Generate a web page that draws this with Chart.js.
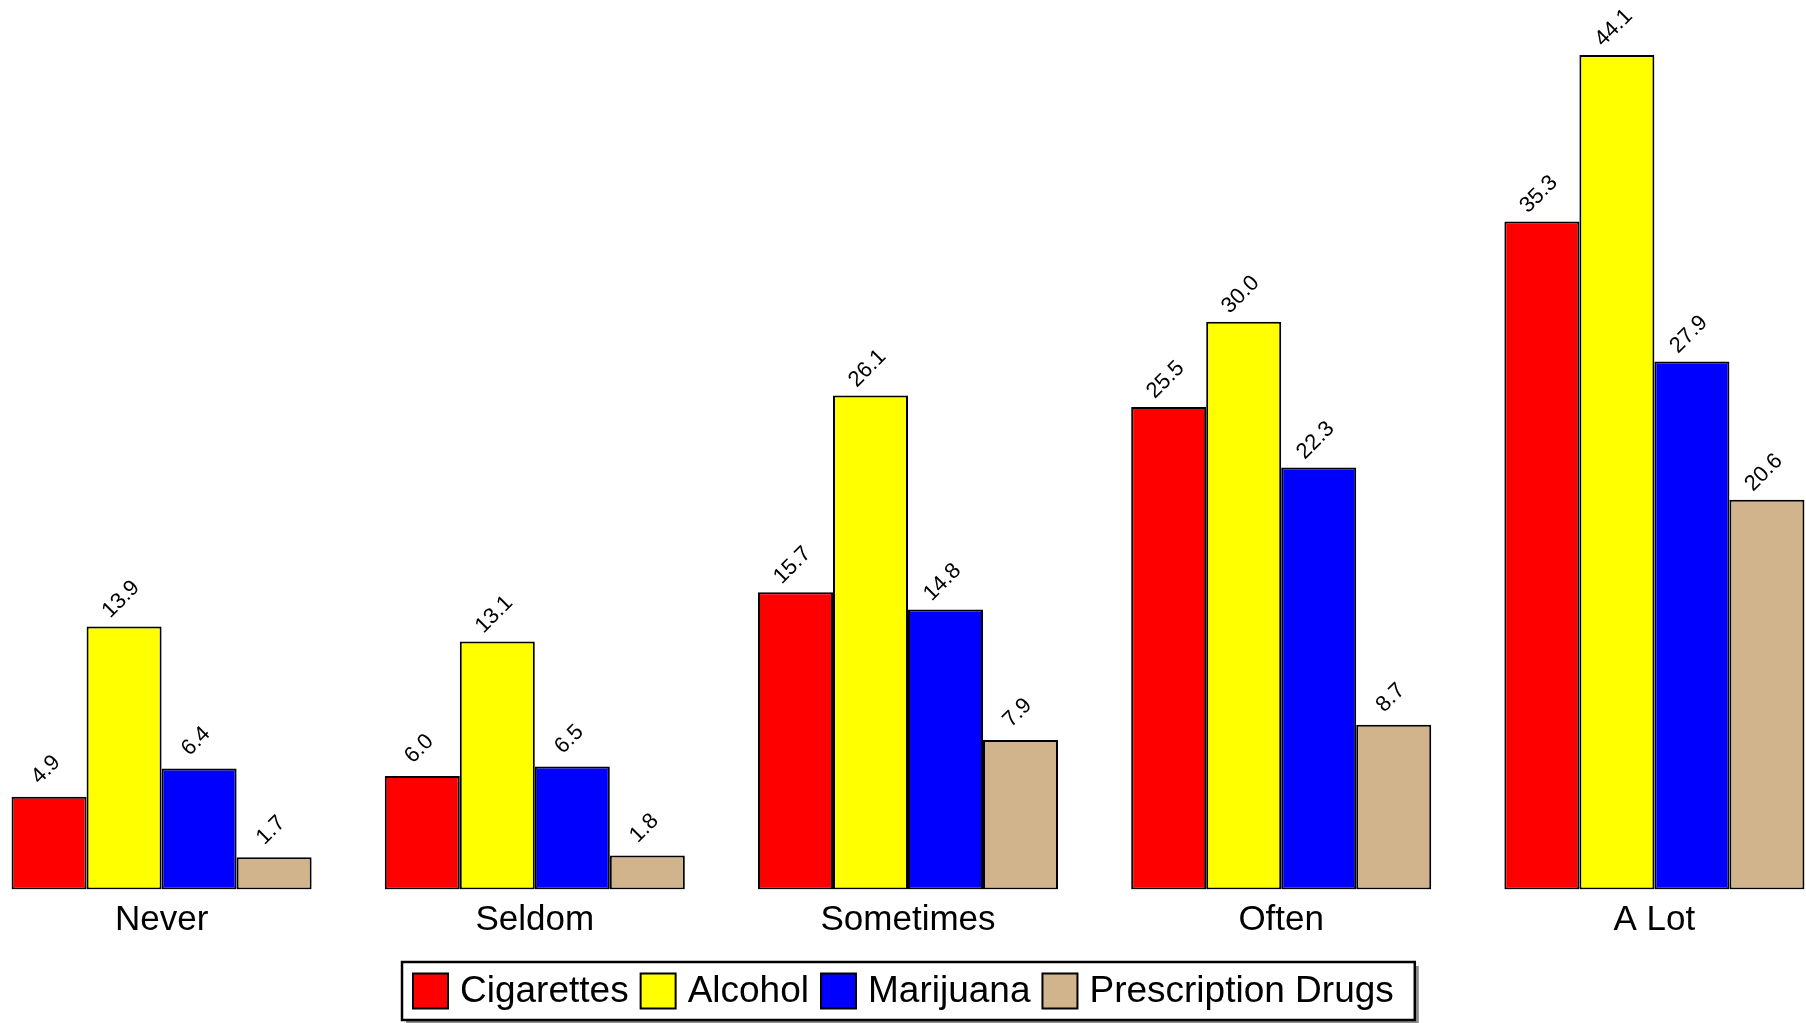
<!DOCTYPE html>
<html>
<head>
<meta charset="utf-8">
<script src="https://cdn.jsdelivr.net/npm/chart.js@4/dist/chart.umd.min.js"></script>
<style>
  html, body { margin: 0; padding: 0; background: #fff; overflow: hidden; width: 1806px; height: 1023px; }
  #wrap { position: absolute; left: -25px; top: 0; width: 1866px; height: 1023px; }
</style>
</head>
<body>
<div id="wrap"><canvas id="c" width="1866" height="1023"></canvas></div>
<script>
const categories = ['Never', 'Seldom', 'Sometimes', 'Often', 'A Lot'];
const seriesNames = ['Cigarettes', 'Alcohol', 'Marijuana', 'Prescription Drugs'];
const cigarettes = [4.9, 6.0, 15.7, 25.5, 35.3];
const alcohol = [13.9, 13.1, 26.1, 30.0, 44.1];
const marijuana = [6.4, 6.5, 14.8, 22.3, 27.9];
const prescriptionDrugs = [1.7, 1.8, 7.9, 8.7, 20.6];
const colors = ['#ff0000', '#ffff00', '#0000ff', '#d2b48c'];

const FONT = '"Liberation Sans", Arial, sans-serif';

const valueLabels = {
  id: 'valueLabels',
  afterDatasetsDraw(chart) {
    const ctx = chart.ctx;
    ctx.save();
    ctx.font = '22px ' + FONT;
    ctx.fillStyle = '#000';
    ctx.textAlign = 'center';
    ctx.textBaseline = 'middle';
    chart.data.datasets.forEach((ds, di) => {
      const meta = chart.getDatasetMeta(di);
      meta.data.forEach((el, i) => {
        const v = ds.data[i];
        ctx.save();
        ctx.translate(el.x - 3, el.y - 27);
        ctx.rotate(-Math.PI / 4);
        ctx.fillText(v.toFixed(1), 0, 0);
        ctx.restore();
      });
    });
    ctx.restore();
  }
};

const boxLegend = {
  id: 'boxLegend',
  afterDraw(chart) {
    const ctx = chart.ctx;
    const ca = chart.chartArea;
    ctx.save();
    ctx.font = '37px ' + FONT;
    const box = 35, gapText = 12, gapItem = 12, padL = 11, padR = 21;
    const widths = chart.data.datasets.map(d => ctx.measureText(d.label).width);
    let content = 0;
    widths.forEach((w, i) => { content += box + gapText + w + (i < widths.length - 1 ? gapItem : 0); });
    const W = content + padL + padR;
    const H = 58;
    const cx = (ca.left + ca.right) / 2;
    const left = Math.round(cx - W / 2);
    const top = 962;
    // shadow
    ctx.fillStyle = '#8c8c8c';
    ctx.fillRect(left + 4, top + 4, W, H);
    ctx.fillStyle = '#fff';
    ctx.fillRect(left, top, W, H);
    ctx.strokeStyle = '#000';
    ctx.lineWidth = 2.5;
    ctx.strokeRect(left, top, W, H);
    let x = left + padL;
    const midY = top + H / 2;
    ctx.textBaseline = 'middle';
    ctx.textAlign = 'left';
    chart.data.datasets.forEach((d, i) => {
      ctx.fillStyle = d.backgroundColor;
      ctx.fillRect(x, midY - box / 2, box, box);
      ctx.strokeStyle = '#000';
      ctx.lineWidth = 2;
      ctx.strokeRect(x, midY - box / 2, box, box);
      x += box + gapText;
      ctx.fillStyle = '#000';
      ctx.fillText(d.label, x, midY + 1);
      x += widths[i] + gapItem;
    });
    ctx.restore();
  }
};

const seriesValues = [cigarettes, alcohol, marijuana, prescriptionDrugs];

new Chart(document.getElementById('c'), {
  type: 'bar',
  data: {
    labels: categories,
    datasets: seriesNames.map((name, i) => ({
      label: name,
      data: seriesValues[i],
      backgroundColor: colors[i],
      borderColor: '#000',
      borderWidth: 2,
      borderSkipped: false,
      categoryPercentage: 0.804,
      barPercentage: 1.0
    }))
  },
  options: {
    responsive: false,
    animation: false,
    devicePixelRatio: 1,
    layout: { padding: { top: 0, left: 0, right: 0, bottom: 72.5 } },
    plugins: {
      legend: { display: false },
      tooltip: { enabled: false }
    },
    scales: {
      x: {
        grid: { display: false, drawTicks: false },
        border: { display: false },
        ticks: { color: '#000', font: { family: FONT, size: 35 }, padding: 9.5, maxRotation: 0 }
      },
      y: {
        display: false,
        min: 0,
        max: 47
      }
    }
  },
  plugins: [valueLabels, boxLegend]
});
</script>
</body>
</html>
